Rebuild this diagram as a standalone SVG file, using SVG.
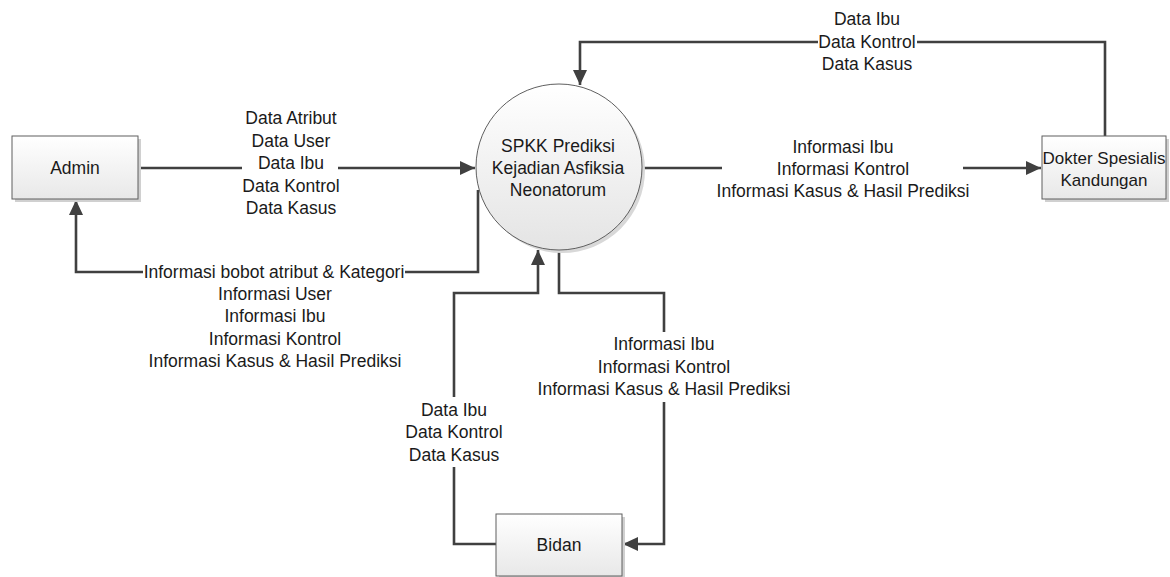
<svg xmlns="http://www.w3.org/2000/svg" width="1170" height="577" viewBox="0 0 1170 577">
<style>
  text { font-family: "Liberation Sans", Arial, sans-serif; font-size: 17.5px; fill: #1a1a1a; text-anchor: middle; }
  .small { font-size: 17px; }
  .box { fill: url(#boxg); stroke: #5f5f5f; stroke-width: 1; }
  .shadow { fill: #d0d0d0; }
  .conn { fill: none; stroke: #404040; stroke-width: 2.6; }
</style>
<defs>
  <linearGradient id="boxg" x1="0" y1="0" x2="0" y2="1">
    <stop offset="0" stop-color="#ffffff"/>
    <stop offset="1" stop-color="#e8e8e8"/>
  </linearGradient>
  <linearGradient id="circg" x1="0" y1="0" x2="0" y2="1">
    <stop offset="0" stop-color="#ffffff"/>
    <stop offset="1" stop-color="#e4e4e4"/>
  </linearGradient>
  <marker id="arr" markerUnits="userSpaceOnUse" markerWidth="16" markerHeight="16" refX="15" refY="7" orient="auto">
    <path d="M0,0 L15,7 L0,14 z" fill="#404040"/>
  </marker>
</defs>

<g id="connectors">
  <path class="conn" d="M138,168 H242"/>
  <path class="conn" d="M338,168 H475" marker-end="url(#arr)"/>
  <path class="conn" d="M478,190 V272 H405"/>
  <path class="conn" d="M143,272 H76 V200" marker-end="url(#arr)"/>
  <path class="conn" d="M1105,136 V42 H917"/>
  <path class="conn" d="M818,42 H580 V85" marker-end="url(#arr)"/>
  <path class="conn" d="M643,168 H722"/>
  <path class="conn" d="M963,168 H1041" marker-end="url(#arr)"/>
  <path class="conn" d="M496,544 H454 V467"/>
  <path class="conn" d="M454,397 V293 H538 V250" marker-end="url(#arr)"/>
  <path class="conn" d="M559,250 V293 H664 V332"/>
  <path class="conn" d="M664,402 V544 H623" marker-end="url(#arr)"/>

  <g id="labels">
    <text x="291" y="124">Data Atribut</text>
    <text x="291" y="147">Data User</text>
    <text x="291" y="169">Data Ibu</text>
    <text x="291" y="192">Data Kontrol</text>
    <text x="291" y="214">Data Kasus</text>

    <text x="274" y="278">Informasi bobot atribut &amp; Kategori</text>
    <text x="275" y="300">Informasi User</text>
    <text x="275" y="322">Informasi Ibu</text>
    <text x="275" y="345">Informasi Kontrol</text>
    <text x="275" y="367">Informasi Kasus &amp; Hasil Prediksi</text>

    <text x="867" y="25">Data Ibu</text>
    <text x="867" y="48">Data Kontrol</text>
    <text x="867" y="70">Data Kasus</text>

    <text x="843" y="153">Informasi Ibu</text>
    <text x="843" y="175">Informasi Kontrol</text>
    <text x="843" y="197">Informasi Kasus &amp; Hasil Prediksi</text>

    <text x="454" y="416">Data Ibu</text>
    <text x="454" y="438">Data Kontrol</text>
    <text x="454" y="461">Data Kasus</text>

    <text x="664" y="350">Informasi Ibu</text>
    <text x="664" y="373">Informasi Kontrol</text>
    <text x="664" y="395">Informasi Kasus &amp; Hasil Prediksi</text>
  </g>
</g>

<g id="process">
  <circle cx="562" cy="170" r="83" fill="#d8d8d8"/>
  <circle cx="559" cy="167" r="83" fill="url(#circg)" stroke="#5f5f5f" stroke-width="1"/>
  <text x="558" y="152">SPKK Prediksi</text>
  <text x="558" y="174">Kejadian Asfiksia</text>
  <text x="558" y="196">Neonatorum</text>
</g>

<g id="admin">
  <rect class="shadow" x="15" y="139" width="126" height="63"/>
  <rect class="box" x="12" y="136" width="126" height="63"/>
  <text x="75" y="174">Admin</text>
</g>

<g id="dokter">
  <rect class="shadow" x="1045" y="139" width="124" height="63"/>
  <rect class="box" x="1042" y="136" width="124" height="63"/>
  <text class="small" x="1104" y="164">Dokter Spesialis</text>
  <text class="small" x="1104" y="186">Kandungan</text>
</g>

<g id="bidan">
  <rect class="shadow" x="499" y="517" width="126" height="62"/>
  <rect class="box" x="496" y="514" width="126" height="62"/>
  <text x="559" y="551">Bidan</text>
</g>
</svg>
